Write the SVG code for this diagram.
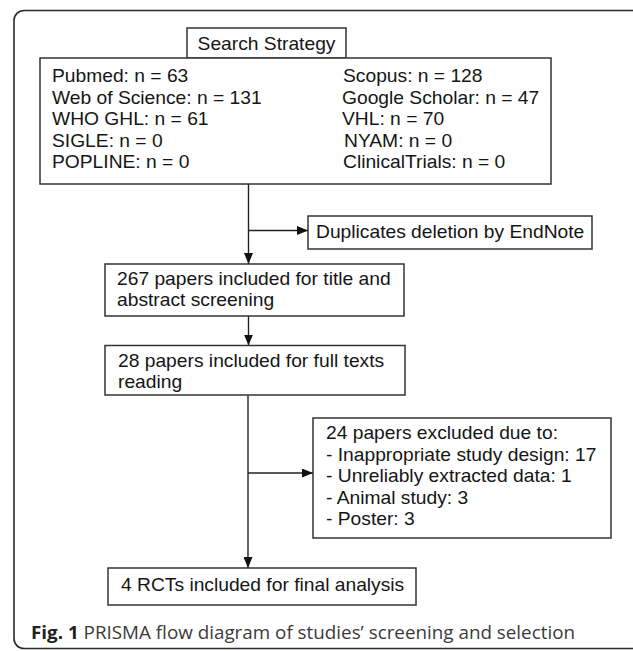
<svg xmlns="http://www.w3.org/2000/svg" width="633" height="651" viewBox="0 0 633 651">
<style>
.frame{fill:none;stroke:#2a2a2a;stroke-width:1.6}
.box{fill:#fff;stroke:#333;stroke-width:1.5}
.t{font-family:"Liberation Sans",Arial,sans-serif;font-size:17.5px;fill:#151515}
.ln{fill:none;stroke:#222;stroke-width:1.4}
.cap{font-family:"Open Sans","Noto Sans",sans-serif;font-size:18.5px;fill:#3a3a3a}
.capb{font-weight:bold;fill:#222}
</style>
<defs>
<marker id="ah" viewBox="0 0 11 9" refX="11" refY="4.5" markerWidth="11" markerHeight="9" markerUnits="userSpaceOnUse" orient="auto">
<path d="M0,0 L11,4.5 L0,9 Z" fill="#111"/>
</marker>
</defs>
<rect class="frame" x="14" y="10.5" width="630" height="638" rx="10"/>
<g id="connectors">
<line class="ln" x1="248.5" y1="184" x2="248.5" y2="264" marker-end="url(#ah)"/>
<line class="ln" x1="248.5" y1="230.5" x2="308" y2="230.5" marker-end="url(#ah)"/>
<line class="ln" x1="248.5" y1="316" x2="248.5" y2="345.5" marker-end="url(#ah)"/>
<line class="ln" x1="248" y1="395" x2="248" y2="568" marker-end="url(#ah)"/>
<line class="ln" x1="248" y1="473" x2="313" y2="473" marker-end="url(#ah)"/>
</g>
<g id="search-strategy">
<rect class="box" x="187" y="28" width="159" height="30"/>
<text class="t" transform="translate(266.5,50) scale(1.1,1)" text-anchor="middle">Search Strategy</text>
</g>
<g id="databases">
<rect class="box" x="40" y="58" width="511" height="126"/>
<text class="t" transform="translate(52,82) scale(1.1,1)">Pubmed: n = 63</text>
<text class="t" transform="translate(52,103.5) scale(1.1,1)">Web of Science: n = 131</text>
<text class="t" transform="translate(52,125) scale(1.1,1)">WHO GHL: n = 61</text>
<text class="t" transform="translate(52,146.5) scale(1.1,1)">SIGLE: n = 0</text>
<text class="t" transform="translate(52,168) scale(1.1,1)">POPLINE: n = 0</text>
<text class="t" transform="translate(343,82) scale(1.1,1)">Scopus: n = 128</text>
<text class="t" transform="translate(342,103.5) scale(1.1,1)">Google Scholar: n = 47</text>
<text class="t" transform="translate(342,125) scale(1.1,1)">VHL: n = 70</text>
<text class="t" transform="translate(344,146.5) scale(1.1,1)">NYAM: n = 0</text>
<text class="t" transform="translate(343,168) scale(1.1,1)">ClinicalTrials: n = 0</text>
</g>
<g id="duplicates">
<rect class="box" x="308" y="216" width="284" height="33"/>
<text class="t" transform="translate(316,237.5) scale(1.1,1)">Duplicates deletion by EndNote</text>
</g>
<g id="screening">
<rect class="box" x="105" y="264" width="299" height="52"/>
<text class="t" transform="translate(117,284.5) scale(1.1,1)">267 papers included for title and</text>
<text class="t" transform="translate(117,306) scale(1.1,1)">abstract screening</text>
</g>
<g id="fulltext">
<rect class="box" x="105" y="345.5" width="300" height="49.5"/>
<text class="t" transform="translate(118,366.5) scale(1.1,1)">28 papers included for full texts</text>
<text class="t" transform="translate(118,388) scale(1.1,1)">reading</text>
</g>
<g id="excluded">
<rect class="box" x="313" y="418" width="298" height="120"/>
<text class="t" transform="translate(326,439) scale(1.1,1)">24 papers excluded due to:</text>
<text class="t" transform="translate(326,460.5) scale(1.1,1)">- Inappropriate study design: 17</text>
<text class="t" transform="translate(326,482) scale(1.1,1)">- Unreliably extracted data: 1</text>
<text class="t" transform="translate(326,503.5) scale(1.1,1)">- Animal study: 3</text>
<text class="t" transform="translate(326,525) scale(1.1,1)">- Poster: 3</text>
</g>
<g id="final">
<rect class="box" x="108" y="568" width="308" height="37"/>
<text class="t" transform="translate(121,590.5) scale(1.1,1)">4 RCTs included for final analysis</text>
</g>
<text class="cap" x="31" y="639" textLength="544" lengthAdjust="spacingAndGlyphs"><tspan class="capb">Fig. 1</tspan> PRISMA flow diagram of studies’ screening and selection</text>
</svg>
